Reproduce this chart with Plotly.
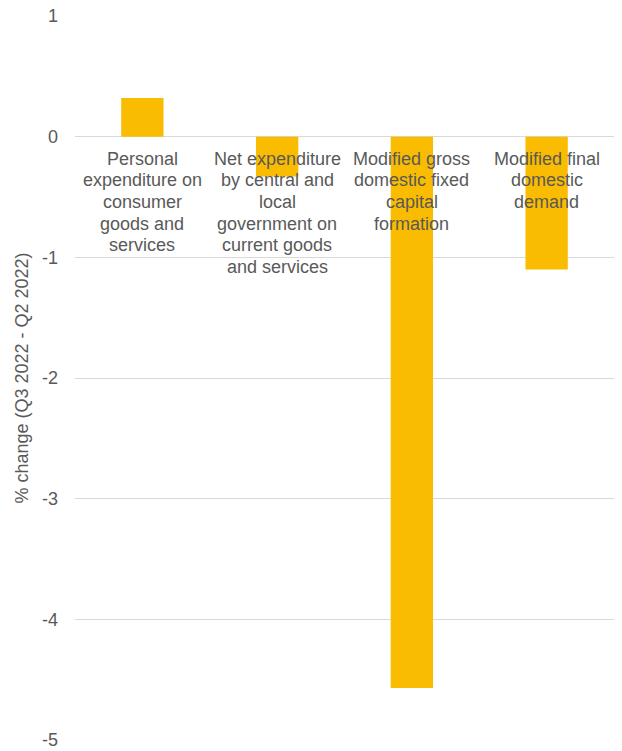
import plotly.graph_objects as go

categories = ["Personal expenditure", "Net expenditure", "Modified GDFCF", "Modified final domestic demand"]
category_labels = [
    ["Personal", "expenditure on", "consumer", "goods and", "services"],
    ["Net expenditure", "by central and", "local", "government on", "current goods", "and services"],
    ["Modified gross", "domestic fixed", "capital", "formation"],
    ["Modified final", "domestic", "demand"],
]
values = [0.32, -0.33, -4.57, -1.10]
y_ticks = [1, 0, -1, -2, -3, -4, -5]

FONT = "Liberation Sans, Arial, sans-serif"
GREY = "#595959"

fig = go.Figure()
fig.add_trace(go.Bar(
    x=categories, y=values,
    marker=dict(color="#F9BC00", line=dict(width=0)),
    hoverinfo="skip",
))

annotations = []
for cat, lines in zip(categories, category_labels):
    for i, line in enumerate(lines):
        annotations.append(dict(
            x=cat, y=0, xref="x", yref="y",
            text=line, showarrow=False,
            xanchor="center", yanchor="middle",
            yshift=-22 - 21.7 * i,
            font=dict(family=FONT, size=18, color=GREY),
        ))

fig.update_layout(
    width=622, height=751,
    margin=dict(l=75, r=8, t=16, b=11, autoexpand=False),
    paper_bgcolor="white", plot_bgcolor="white",
    bargap=0.686,
    showlegend=False,
    annotations=annotations,
    font=dict(family=FONT, size=18, color=GREY),
    xaxis=dict(showticklabels=False, showgrid=False, zeroline=False, showline=False,
               ticks="", automargin=False),
    yaxis=dict(
        range=[-5, 1],
        tickvals=y_ticks,
        ticktext=[str(v) for v in y_ticks],
        showgrid=True, gridcolor="#D9D9D9", gridwidth=1.3,
        zeroline=True, zerolinecolor="#D9D9D9", zerolinewidth=1.3,
        showline=False, ticks="",
        automargin=False,
        ticklabelstandoff=16,
        tickfont=dict(family=FONT, size=18, color=GREY),
        title=dict(text="% change (Q3 2022 - Q2 2022)", standoff=8,
                   font=dict(family=FONT, size=18, color=GREY)),
    ),
)

fig.write_html("out.html")
